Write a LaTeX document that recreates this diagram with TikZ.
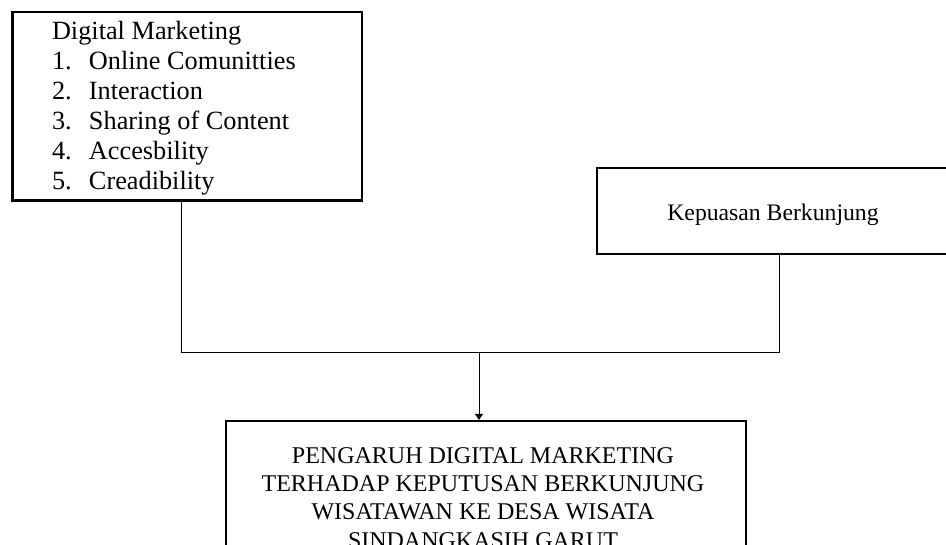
\documentclass[tikz,border=0pt]{standalone}
\usepackage{fontspec}
\setmainfont{Liberation Serif}
\usetikzlibrary{arrows.meta}

\tikzset{
  frame/.style={draw=black, line width=2.2pt, inner sep=0pt, fill=none},
  label/.style={inner sep=0pt, outer sep=0pt},
  wire/.style={draw=black, line width=1pt},
  arrowwire/.style={wire, -{Triangle[length=6pt,width=8pt]}}
}

\newcommand{\itemrow}[2]{\makebox[37pt][l]{#1}#2}

\begin{document}
\begin{tikzpicture}[x=1pt, y=-1pt]
  \clip (0,0) rectangle (946,545);
  \fill[white] (0,0) rectangle (946,545);

  % boxes
  \node[frame, minimum width=349.5pt, minimum height=188.5pt] (dm) at (187.25,106.25) {};
  \node[frame, minimum width=353pt, minimum height=86pt] (kb) at (773.5,211) {};
  \node[frame, minimum width=520pt, minimum height=151pt] (res) at (486,496.5) {};

  % box texts
  \node[label, anchor=base west] (dmtext) at (52,39.3) {\fontsize{26.3}{30}\selectfont
    \begin{tabular}[t]{@{}l@{}}
      Digital Marketing\\
      \itemrow{1.}{Online Comunitties}\\
      \itemrow{2.}{Interaction}\\
      \itemrow{3.}{Sharing of Content}\\
      \itemrow{4.}{Accesbility}\\
      \itemrow{5.}{Creadibility}
    \end{tabular}};
  \node[label, anchor=base] (kbtext) at (773,220.5) {\fontsize{23.7}{28}\selectfont Kepuasan Berkunjung};
  \node[label, anchor=base] (restext) at (483,463.3) {\fontsize{24}{28.3}\selectfont
    \begin{tabular}[t]{@{}c@{}}
      PENGARUH DIGITAL MARKETING\\
      TERHADAP KEPUTUSAN BERKUNJUNG\\
      WISATAWAN KE DESA WISATA\\
      SINDANGKASIH GARUT
    \end{tabular}};

  % connectors
  \coordinate (jl) at (181.7,352.5);
  \coordinate (jr) at (779,352.5);
  \coordinate (jm) at (479,352.5);
  \draw[wire] (dm.south -| jl) -- (jl) -- (jr) -- (kb.south -| jr);
  \draw[arrowwire] (jm) -- (jm |- res.north);
\end{tikzpicture}
\end{document}
